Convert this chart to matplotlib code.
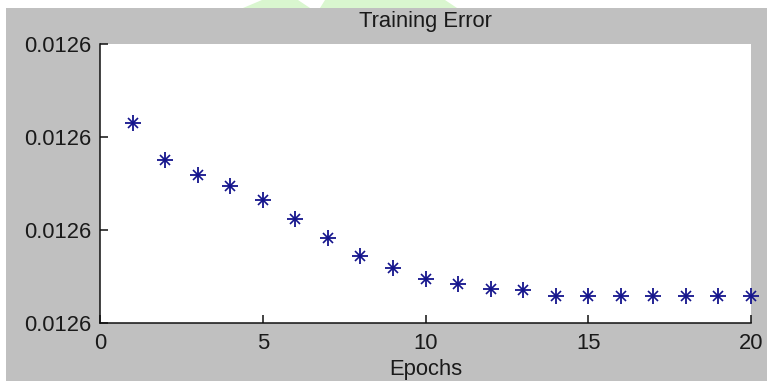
import matplotlib
matplotlib.use("Agg")
import matplotlib.pyplot as plt
from matplotlib.patches import Rectangle, Polygon
from matplotlib.ticker import FormatStrFormatter

plt.rcParams['font.family'] = ['Liberation Sans', 'DejaVu Sans']

# Training error per epoch
epochs = [1, 2, 3, 4, 5, 6, 7, 8, 9, 10, 11, 12, 13, 14, 15, 16, 17, 18, 19, 20]
train_error = [0.0126215, 0.0126175, 0.0126159, 0.0126147, 0.0126132,
               0.0126112, 0.0126091, 0.0126072, 0.0126059, 0.0126047,
               0.0126042, 0.0126037, 0.0126035, 0.0126029, 0.0126029,
               0.0126029, 0.0126029, 0.0126029, 0.0126029, 0.0126029]

x_ticks = [0, 5, 10, 15, 20]
y_ticks = [0.01260, 0.01261, 0.01262, 0.01263]

W, H = 767, 381
fig = plt.figure(figsize=(W / 100, H / 100), dpi=100, facecolor='white')

# grey figure window
fig.patches.append(Rectangle((6 / W, 0), 1 - 6 / W, (H - 8) / H,
                             transform=fig.transFigure, facecolor='#c0c0c0',
                             edgecolor='none', zorder=-10))
# faint green shapes along the top strip
for pts in ([(243, 8), (262, 0), (298, 0), (310, 8)],
            [(320, 8), (325, 0), (445, 0), (457, 8)]):
    fig.patches.append(Polygon([(x / W, 1 - y / H) for x, y in pts],
                               closed=True, transform=fig.transFigure,
                               facecolor='#d9f6cf', edgecolor='none', zorder=-10))

ax = fig.add_axes([100 / W, (H - 323) / H, (751 - 100) / W, (323 - 44) / H])
ax.set_zorder(1)
ax.set_facecolor('white')

ax.plot(epochs, train_error, linestyle='none', marker='+', markersize=11.5,
        markeredgewidth=1.3, color='#14148c', clip_on=False, zorder=3)
ax.plot(epochs, train_error, linestyle='none', marker='x', markersize=6.5,
        markeredgewidth=1.2, color='#14148c', clip_on=False, zorder=3)

ax.set_xlim(0, 20)
ax.set_ylim(y_ticks[0], y_ticks[-1])
ax.set_xticks(x_ticks)
ax.set_yticks(y_ticks)
ax.yaxis.set_major_formatter(FormatStrFormatter('%.4f'))

for side in ('top', 'right'):
    ax.spines[side].set_visible(False)
for side in ('left', 'bottom'):
    ax.spines[side].set_linewidth(1.1)
    ax.spines[side].set_color('#111111')

ax.tick_params(axis='both', direction='in', length=6, width=1.1,
               colors='#111111', labelsize=15.8, labelcolor='#1a1a1a')
ax.tick_params(axis='x', pad=7)
ax.tick_params(axis='y', pad=6.5)

ax.set_title('Training Error', fontsize=15.8, color='#1a1a1a', pad=12)
ax.set_xlabel('Epochs', fontsize=15.8, color='#1a1a1a', labelpad=4)

fig.savefig('out.png', dpi=100, facecolor=fig.get_facecolor())
